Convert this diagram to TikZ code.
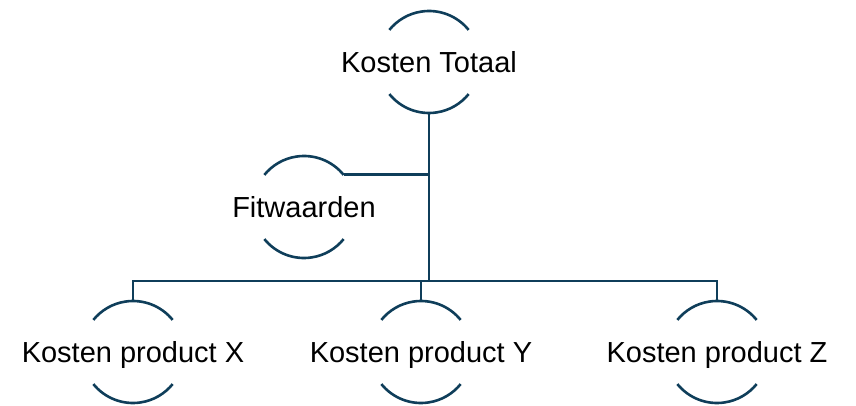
\documentclass[tikz,border=0pt]{standalone}
\usepackage{fontspec}
\setmainfont{Liberation Sans}
\definecolor{linec}{RGB}{15,62,90}
\begin{document}
\begin{tikzpicture}[x=1pt,y=1pt,
  ring/.style={circle,minimum size=102pt,inner sep=0pt,draw=none},
  lbl/.style={font=\fontsize{29}{34}\selectfont,text=black,inner sep=0pt},
  arcl/.style={draw=linec,line width=2.6pt},
  conn/.style={draw=linec,line width=2.6pt}]
\useasboundingbox (0,0) rectangle (856,405);
\node[ring] (top) at (429,343) {};
\node[ring] (fit) at (304,198) {};
\node[ring] (px) at (133,53) {};
\node[ring] (py) at (421,53) {};
\node[ring] (pz) at (717,53) {};
\coordinate (bar) at (429,124);
\foreach \n in {top,fit,px,py,pz}{
  \draw[arcl] ([shift={(39:51)}]\n.center) arc (39:141:51);
  \draw[arcl] ([shift={(219:51)}]\n.center) arc (219:321:51);
}
\node[lbl] at (top) {Kosten Totaal};
\node[lbl] at (fit) {Fitwaarden};
\node[lbl] at ([yshift=-3pt]px.center) {Kosten product X};
\node[lbl] at ([yshift=-3pt]py.center) {Kosten product Y};
\node[lbl] at ([yshift=-3pt]pz.center) {Kosten product Z};
\draw[conn] (top.south) -- (top.south |- bar);
\draw[conn] (fit.39) -- (fit.39 -| top.south);
\draw[conn] (px.north) -- (px.north |- bar) -- (pz.north |- bar) -- (pz.north);
\draw[conn] (py.north) -- (py.north |- bar);
\end{tikzpicture}
\end{document}
